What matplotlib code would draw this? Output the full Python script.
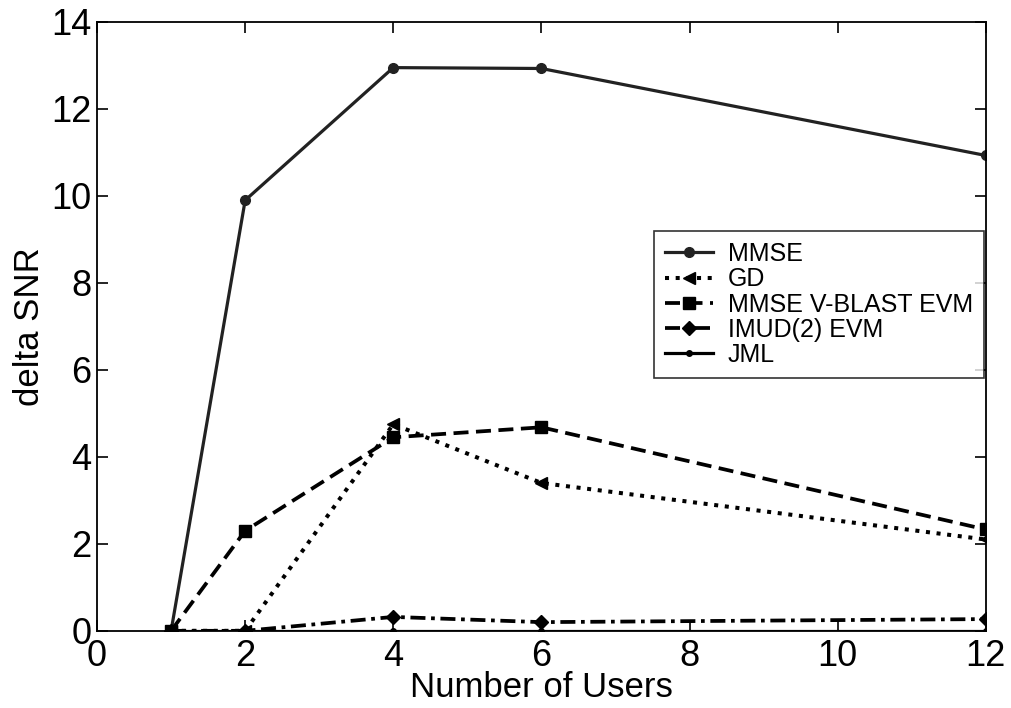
import numpy as np
import matplotlib
matplotlib.use("Agg")
import matplotlib.pyplot as plt

# delta SNR vs number of users for each detector
users = [1, 2, 4, 6, 12]
mmse = [0.0, 9.9, 12.95, 12.93, 10.93]
gd = [0.0, 0.0, 4.75, 3.4, 2.1]
vblast = [0.0, 2.3, 4.45, 4.68, 2.33]
imud = [0.0, 0.0, 0.32, 0.2, 0.27]
jml = [0.0, 0.0, 0.0, 0.0, 0.0]

plt.rcParams['font.family'] = ['Liberation Sans', 'DejaVu Sans']

fig = plt.figure(figsize=(10.11, 7.08), dpi=100)
ax = fig.add_axes([0.096, 0.109, 0.879, 0.860])

lw = 2.3
ax.plot(users, mmse, '-', color='#222222', lw=lw, marker='o', ms=7, label='MMSE')
ax.plot(users, gd, ':', color='black', lw=lw + 0.6, marker='<', ms=9, label='GD')
ax.plot(users, vblast, '--', color='black', lw=lw + 0.4, marker='s', ms=8,
        dashes=(4, 2), label='MMSE V-BLAST EVM')
ax.plot(users, imud, '-.', color='black', lw=lw + 0.4, marker='D', ms=7,
        dashes=(4, 1.5, 1, 1.5), label='IMUD(2) EVM')
ax.plot(users, jml, '-', color='black', lw=lw, marker='.', ms=8, label='JML')

ax.set_xlim(0, 12)
ax.set_ylim(0, 14)
ax.set_xticks(np.arange(0, 13, 2))
ax.set_yticks(np.arange(0, 15, 2))
ax.tick_params(direction='in', length=8, width=1.2, top=True, right=True,
               labelsize=26)
ax.tick_params(axis='x', pad=6)
ax.tick_params(axis='y', pad=4)
for s in ax.spines.values():
    s.set_linewidth(1.3)

ax.set_xlabel('Number of Users', fontsize=25, labelpad=-2)
ax.set_ylabel('delta SNR', fontsize=25, labelpad=4)

leg = ax.legend(loc='upper right', bbox_to_anchor=(0.998, 0.657), fontsize=18,
                frameon=True, fancybox=False, handlelength=1.9,
                borderpad=0.45, labelspacing=0.05, handletextpad=0.6,
                borderaxespad=0)
leg.get_frame().set_edgecolor('black')
leg.get_frame().set_linewidth(1.2)

plt.savefig("out.png", dpi=100)
